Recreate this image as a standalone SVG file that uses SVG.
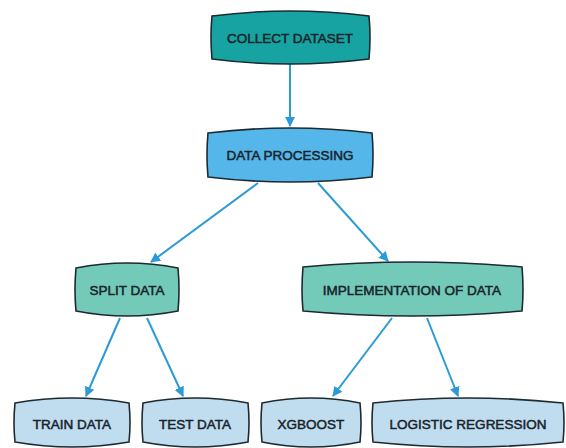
<svg xmlns="http://www.w3.org/2000/svg" width="566" height="448" viewBox="0 0 566 448">
  <defs>
    <marker id="arrow" viewBox="0 0 10 10" refX="9" refY="5" markerWidth="5" markerHeight="5" orient="auto" markerUnits="strokeWidth">
      <path d="M0,0 L10,5 L0,10 Z" fill="#2b9ad6"/>
    </marker>
  </defs>
  <style>
    .box { stroke: #1d2a30; stroke-width: 1.6; }
    .teal { fill: #17a3a1; }
    .blue { fill: #55b6e9; }
    .mint { fill: #74cab9; }
    .pale { fill: #c0dcef; }
    .label { font-family: "Liberation Sans", Arial, sans-serif; font-size: 13.5px; fill: #18232b; text-anchor: middle; dominant-baseline: central; stroke: #18232b; stroke-width: 0.5; }
    .edge { stroke: #2b9ad6; stroke-width: 2; fill: none; marker-end: url(#arrow); }
  </style>
  <rect width="566" height="448" fill="#ffffff"/>

  <g id="connectors">
    <line class="edge" x1="290" y1="64" x2="290" y2="126"/>
    <line class="edge" x1="258" y1="183" x2="151" y2="262"/>
    <line class="edge" x1="318" y1="183" x2="388" y2="261"/>
    <line class="edge" x1="120" y1="318" x2="86" y2="396"/>
    <line class="edge" x1="147" y1="318" x2="183" y2="396"/>
    <line class="edge" x1="392" y1="318" x2="333" y2="396"/>
    <line class="edge" x1="427" y1="318" x2="458" y2="396"/>
  </g>

  <g id="collect-dataset">
    <path class="box teal" d="M212,16 Q290,6 369,16 Q371,37 369,59 Q290,69 212,59 Q210,37 212,16 Z"/>
    <text class="label" x="290" y="38">COLLECT DATASET</text>
  </g>

  <g id="data-processing">
    <path class="box blue" d="M208,133 Q290,123 372,133 Q374,155 372,177 Q290,187 208,177 Q206,155 208,133 Z"/>
    <text class="label" x="290" y="155">DATA PROCESSING</text>
  </g>

  <g id="split-data">
    <path class="box mint" d="M76,268 Q127,258 178,268 Q180,290 178,311 Q127,321 76,311 Q74,290 76,268 Z"/>
    <text class="label" x="127" y="290">SPLIT DATA</text>
  </g>

  <g id="implementation-of-data">
    <path class="box mint" d="M303,267 Q412,257 522,267 Q524,290 522,311 Q412,321 303,311 Q301,290 303,267 Z"/>
    <text class="label" x="412" y="290">IMPLEMENTATION OF DATA</text>
  </g>

  <g id="train-data">
    <path class="box pale" d="M15,403 Q72,393 129,403 Q131,423 129,442 Q72,452 15,442 Q13,423 15,403 Z"/>
    <text class="label" x="72" y="424">TRAIN DATA</text>
  </g>

  <g id="test-data">
    <path class="box pale" d="M143,403 Q195,393 248,403 Q250,423 248,442 Q195,452 143,442 Q141,423 143,403 Z"/>
    <text class="label" x="195" y="424">TEST DATA</text>
  </g>

  <g id="xgboost">
    <path class="box pale" d="M262,403 Q311,393 360,403 Q362,423 360,442 Q311,452 262,442 Q260,423 262,403 Z"/>
    <text class="label" x="311" y="424">XGBOOST</text>
  </g>

  <g id="logistic-regression">
    <path class="box pale" d="M373,403 Q468,393 563,403 Q565,423 563,442 Q468,452 373,442 Q371,423 373,403 Z"/>
    <text class="label" x="468" y="424">LOGISTIC REGRESSION</text>
  </g>
</svg>
